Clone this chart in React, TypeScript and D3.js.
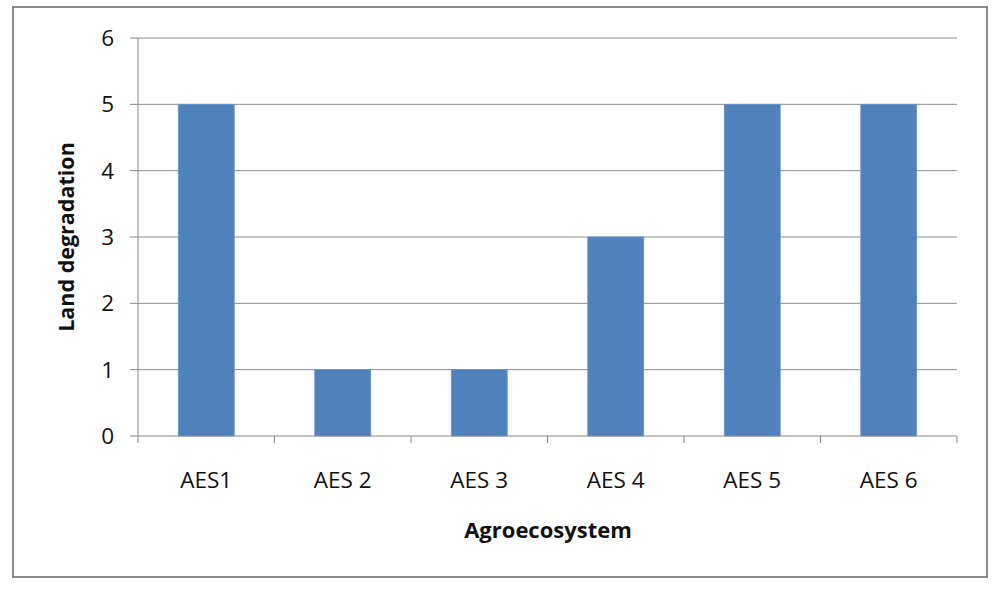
import React from "react";
import * as d3 from "d3";

const categories = ["AES1", "AES 2", "AES 3", "AES 4", "AES 5", "AES 6"];
const values = [5, 1, 1, 3, 5, 5];
const yTicks = [0, 1, 2, 3, 4, 5, 6];
const xTitle = "Agroecosystem";
const yTitle = "Land degradation";

export default function App() {
  const W = 1000, H = 592;
  const left = 138, right = 957, top = 38, bottom = 436;
  const x = d3.scaleBand<string>().domain(categories).range([left, right]).paddingInner(0.59).paddingOuter(0.295);
  const step = (right - left) / categories.length;
  const y = d3.scaleLinear().domain([0, 6]).range([bottom, top]);
  const font = "'Open Sans', sans-serif";
  const grey = "#878787";
  return (
    <svg width={W} height={H} style={{ position: "absolute", left: 0, top: 0, background: "#fff" }}>
      <rect x={13} y={7} width={974} height={570} fill="#fff" stroke="#8a8a8a" strokeWidth={2} />
      {yTicks.map((t) => (
        <g key={t}>
          {t > 0 && <line x1={left} x2={right} y1={y(t)} y2={y(t)} stroke="#8c8c8c" strokeWidth={1} />}
          <line x1={130} x2={left} y1={y(t)} y2={y(t)} stroke={grey} strokeWidth={1} />
          <text x={114} y={y(t)} dy="0.36em" textAnchor="end" fontFamily={font} fontSize={22.5} fill="#111">{t}</text>
        </g>
      ))}
      {categories.map((c, i) => (
        <rect key={c} x={x(c)} y={y(values[i])} width={x.bandwidth()} height={bottom - y(values[i])} fill="#4F81BD" stroke="#6b96c9" strokeWidth={0.8} />
      ))}
      <line x1={left} x2={left} y1={top} y2={bottom} stroke={grey} strokeWidth={1} />
      <line x1={left} x2={right} y1={bottom} y2={bottom} stroke={grey} strokeWidth={1} />
      {d3.range(categories.length + 1).map((i) => (
        <line key={i} x1={left + i * step} x2={left + i * step} y1={bottom} y2={bottom + 7} stroke={grey} strokeWidth={1} />
      ))}
      {categories.map((c) => (
        <text key={c} x={x(c)! + x.bandwidth() / 2} y={480} dy="0.36em" textAnchor="middle" fontFamily={font} fontSize={22.5} fill="#111">{c}</text>
      ))}
      <text x={548} y={530} dy="0.36em" textAnchor="middle" fontFamily={font} fontSize={22} fontWeight="bold" fill="#111">{xTitle}</text>
      <text transform={`translate(66,${(top + bottom) / 2}) rotate(-90)`} dy="0.36em" textAnchor="middle" fontFamily={font} fontSize={21.5} fontWeight="bold" fill="#111">{yTitle}</text>
    </svg>
  );
}
